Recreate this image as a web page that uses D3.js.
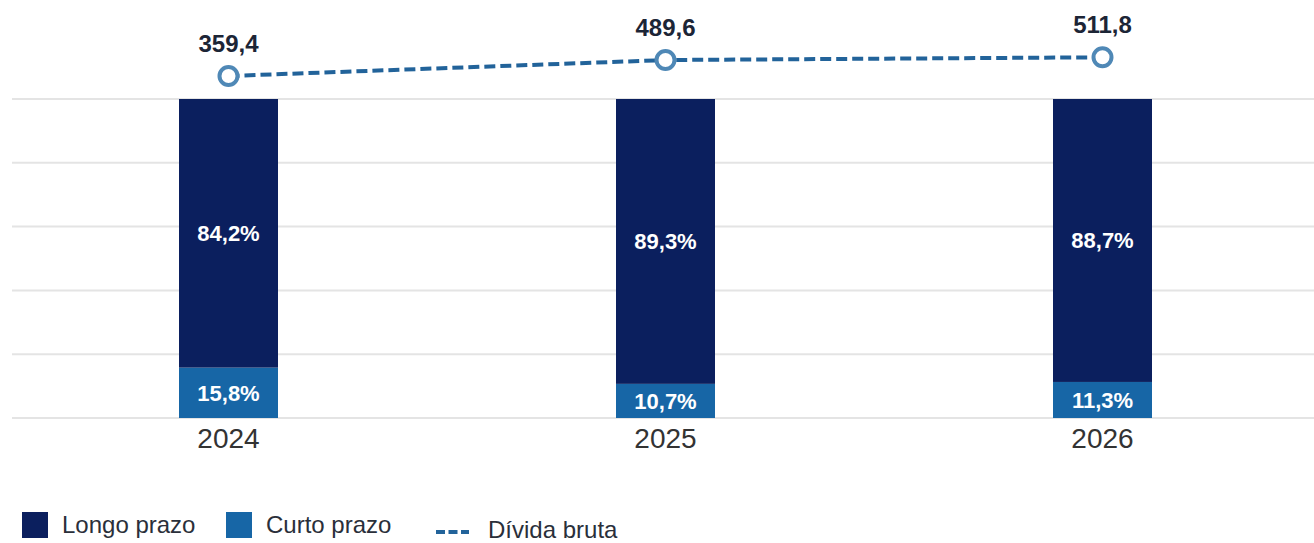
<!DOCTYPE html>
<html>
<head>
<meta charset="utf-8">
<script src="https://cdn.jsdelivr.net/npm/d3@7"></script>
<style>
  html, body { margin: 0; padding: 0; background: #ffffff; }
  svg { display: block; font-family: "Liberation Sans", Arial, sans-serif; }
</style>
</head>
<body>
<svg id="chart" width="1314" height="543"></svg>
<script>
const years = ["2024", "2025", "2026"];
const longoPrazo = [84.2, 89.3, 88.7];
const curtoPrazo = [15.8, 10.7, 11.3];
const dividaBruta = [359.4, 489.6, 511.8];
const gridTicks = [0, 20, 40, 60, 80, 100];
const seriesNames = ["Longo prazo", "Curto prazo", "Dívida bruta"];

const fmt = v => v.toFixed(1).replace(".", ",");

const colors = { longo: "#0b1f5e", curto: "#1766a6", line: "#22639a", marker: "#4f88b6", label: "#1c2536", year: "#333333", grid: "#e4e4e4" };

const svg = d3.select("#chart");
const W = 1314;

const xc = d3.scalePoint().domain(years).range([228.5, 1102.5]);
const barW = 99;

const y = d3.scaleLinear().domain([0, 100]).range([418, 99]);
const y2 = d3.scaleLinear().domain([0, 1000]).range([120.2, -2.7]);

// Gridlines
svg.append("g").selectAll("line").data(gridTicks).join("line")
  .attr("x1", 12).attr("x2", W)
  .attr("y1", d => y(d)).attr("y2", d => y(d))
  .attr("stroke", colors.grid).attr("stroke-width", 2);

// Stacked bars
const data = years.map((yr, i) => ({ year: yr, longo: longoPrazo[i], curto: curtoPrazo[i] }));
const stack = d3.stack().keys(["curto", "longo"])(data);
const fillFor = { curto: colors.curto, longo: colors.longo };

stack.forEach(layer => {
  const g = svg.append("g");
  g.selectAll("rect").data(layer).join("rect")
    .attr("x", d => xc(d.data.year) - barW / 2)
    .attr("width", barW)
    .attr("y", d => y(d[1]))
    .attr("height", d => y(d[0]) - y(d[1]))
    .attr("fill", fillFor[layer.key]);
  g.selectAll("text").data(layer).join("text")
    .attr("x", d => xc(d.data.year))
    .attr("y", d => (y(d[0]) + y(d[1])) / 2 + 8)
    .attr("text-anchor", "middle")
    .attr("font-size", 22).attr("font-weight", "bold")
    .attr("fill", "#ffffff")
    .text(d => fmt(d.data[layer.key]) + "%");
});

// Year axis labels
svg.append("g").selectAll("text").data(years).join("text")
  .attr("x", d => xc(d)).attr("y", 448)
  .attr("text-anchor", "middle")
  .attr("font-size", 28).attr("fill", colors.year)
  .text(d => d);

// Dívida bruta line
const pts = years.map((yr, i) => ({ year: yr, v: dividaBruta[i] }));
const line = d3.line().x(d => xc(d.year)).y(d => y2(d.v));
svg.append("path").datum(pts)
  .attr("d", line)
  .attr("fill", "none")
  .attr("stroke", colors.line)
  .attr("stroke-width", 4)
  .attr("stroke-dasharray", "11,5");

svg.append("g").selectAll("circle").data(pts).join("circle")
  .attr("cx", d => xc(d.year)).attr("cy", d => y2(d.v))
  .attr("r", 9)
  .attr("fill", "#ffffff")
  .attr("stroke", colors.marker).attr("stroke-width", 4);

svg.append("g").selectAll("text").data(pts).join("text")
  .attr("x", d => xc(d.year)).attr("y", d => y2(d.v) - 24)
  .attr("text-anchor", "middle")
  .attr("font-size", 24).attr("font-weight", "bold")
  .attr("fill", colors.label)
  .text(d => fmt(d.v));

// Legend
const leg = svg.append("g");
const legItems = [
  { name: seriesNames[0], type: "rect", color: colors.longo, x: 22 },
  { name: seriesNames[1], type: "rect", color: colors.curto, x: 226 },
  { name: seriesNames[2], type: "line", color: colors.line, x: 436 }
];
legItems.forEach(it => {
  if (it.type === "rect") {
    leg.append("rect").attr("x", it.x).attr("y", 512).attr("width", 26).attr("height", 26).attr("fill", it.color);
    leg.append("text").attr("x", it.x + 40).attr("y", 533)
      .attr("font-size", 24).attr("fill", "#2a2f3a").text(it.name);
  } else {
    leg.append("line").attr("x1", it.x).attr("x2", it.x + 33).attr("y1", 532).attr("y2", 532)
      .attr("stroke", it.color).attr("stroke-width", 4).attr("stroke-dasharray", "9,3.5");
    leg.append("text").attr("x", it.x + 52).attr("y", 538)
      .attr("font-size", 24).attr("fill", "#2a2f3a").text(it.name);
  }
});
</script>
</body>
</html>
